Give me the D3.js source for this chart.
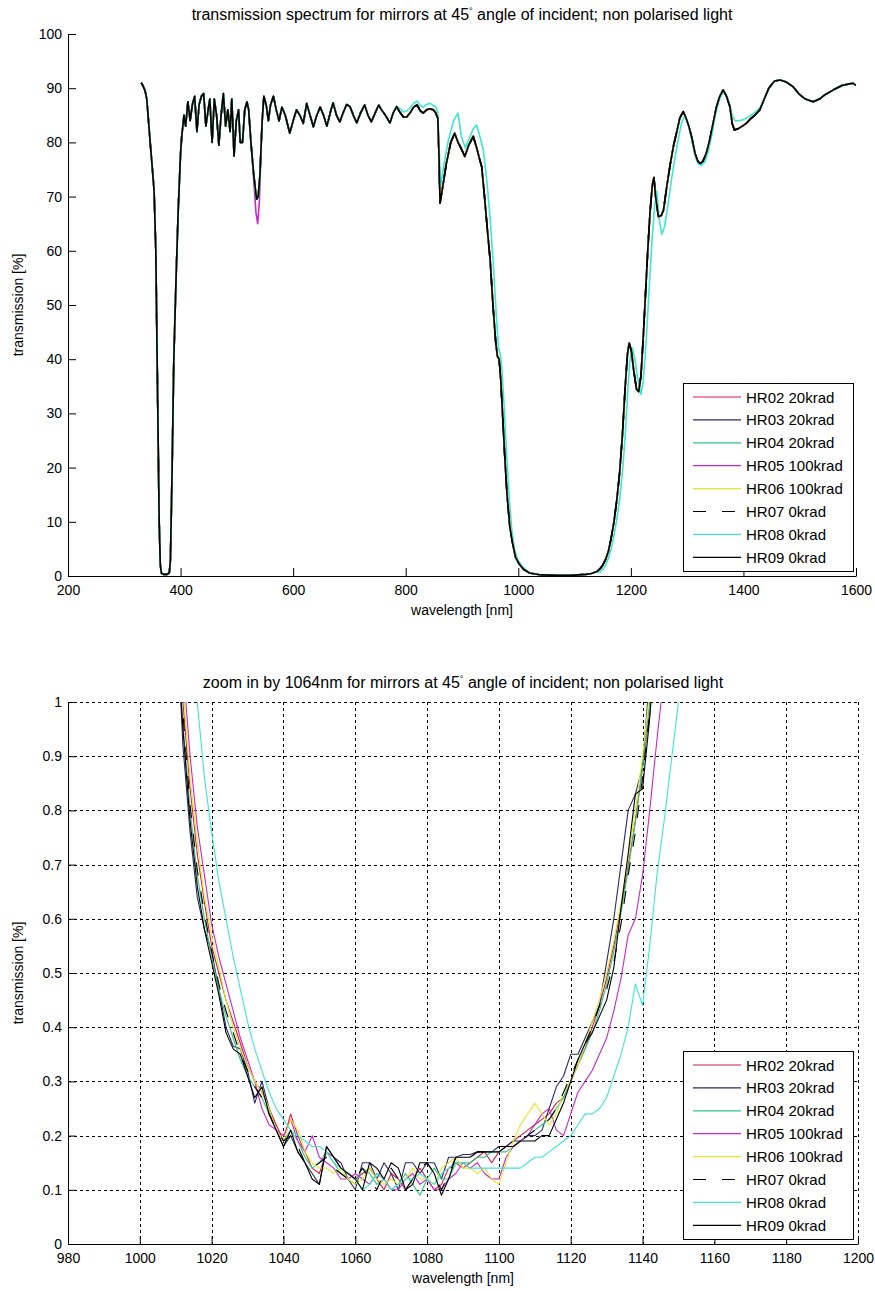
<!DOCTYPE html>
<html><head><meta charset="utf-8">
<script src="https://cdn.jsdelivr.net/npm/d3@7"></script>
<style>
body{margin:0;background:#fff}
svg text{font-family:"Liberation Sans",Arial,Helvetica,sans-serif;fill:#000}
</style>
</head><body>
<svg id="c" width="875" height="1291"></svg>
<script>
// ---------------- DATA ----------------
const seriesNames = ["HR02 20krad","HR03 20krad","HR04 20krad","HR05 100krad","HR06 100krad","HR07 0krad","HR08 0krad","HR09 0krad"];
const seriesColors = ["#d21f4a","#2a2a6a","#2fc584","#c828c8","#e6e62a","#000000","#3ee6d2","#000000"];
const seriesDash = [null,null,null,null,null,"13,16",null,null];

const topXTicks = [200,400,600,800,1000,1200,1400,1600];
const topYTicks = [0,10,20,30,40,50,60,70,80,90,100];
const zoomXTicks = [980,1000,1020,1040,1060,1080,1100,1120,1140,1160,1180,1200];
const zoomYTicks = [0,0.1,0.2,0.3,0.4,0.5,0.6,0.7,0.8,0.9,1];

// full spectrum, HR09 (shared by most samples, which overlap)
const topBase = [
[330,91],[333,90.5],[337,89.5],[340,88],[343,84],[346,80],[350,75],[353,71],[356,60],[359,35],[362,10],[364,2],[366,0.5],[370,0.3],[376,0.3],[380,0.6],[382,3],[385,20],[388,40],[392,55],[396,68],[400,78],[402,81],
[406,85],[409,83],[413,87.5],[417,84],[421,87],[425,88.5],[429,82],[433,87],[437,88.5],[441,89],[445,83],[449,86],[452,88],[456,80],[460,88],[464,85],[468,79.5],[472,85],[476,89],[480,83],[484,86],[488,82],[491,88],[495,77.5],[499,84],[503,86],[506,80],[510,80],[514,86],[518,87.5],[521,86],[525,80],[530,74],[535,69.5],[538,70],[541,74],[545,84],[548,88.5],
[552,87],[556,84],[560,87],[565,88.5],[570,86],[575,84],[580,86.5],[586,85],[594,81.7],[600,84],[606,86],[612,85],[618,83.5],[624,87.2],[630,85],[636,82.9],[642,85],[648,86.5],[654,85],[660,83],[666,85.5],[671,87.3],[677,85],[683,83.8],[689,85.5],[695,87],[701,86.6],[707,85],[713,83.6],[720,85.5],[727,86.9],[733,85],[739,83.8],[746,85.5],[752,86.9],[757,86],[764,85],[772,83.6],[778,85.5],[784,86.6],[790,85.5],[796,84.7],[802,84.7],[808,85.5],[814,86.5],[820,86.9],[826,85.8],[831,85.4],[837,86],[843,86.2],[849,86],[853,85.5],[857,84.5],
[859,78],[861,68.8],[866,72],[872,76],[880,80],[887,81.7],[893,80],[898,79],[905,77.4],[912,79.5],[920,81.1],[926,79],[931,77],[935,75.5],[940,70],[945,64],[950,58.3],[955,50],[960,43],[963,40.5],[966,40],[969,36],[972,30],[976,22],[980,15],[985,9],[990,6],[995,3.5],[1000,2.5],[1005,1.8],[1010,1.2],[1020,0.55],[1040,0.2],[1070,0.12],[1100,0.17],[1120,0.3],[1130,0.45],[1140,0.85],[1145,1.3],
[1150,2],[1155,3],[1160,4.5],[1165,7],[1170,10],[1175,14],[1180,19],[1185,26],[1190,35],[1194,41],[1197,43],[1201,41.5],[1205,38],[1210,34.5],[1214,34],[1218,37],[1222,44],[1226,52],[1230,60],[1234,67],[1238,72],[1241,73.5],[1244,70],[1249,66.3],[1254,66.5],[1258,67.5],[1264,72],[1270,76],[1276,79.5],[1281,81.7],[1287,84.5],[1293,85.7],[1298,84.5],[1303,83],[1308,81],[1314,78],[1319,76.5],[1323,76.1],[1328,76.5],[1334,78],[1340,80.4],[1346,83.5],[1352,86.5],[1358,88.5],[1364,89.7],[1370,88.5],[1376,86.6],[1380,83.5],[1384,82.3],[1390,82.5],[1398,83],[1405,83.5],[1412,84.3],[1420,85],[1429,86],[1437,88],[1445,90],[1455,91.3],[1465,91.5],[1475,91.2],[1488,90.3],[1498,89],[1510,88],[1524,87.5],[1535,88],[1545,88.8],[1560,89.7],[1575,90.5],[1588,90.8],[1595,90.9],[1600,90.5]
];
// HR05 differs at the 540 nm dip
const topMagentaDip = [[530,73],[534,67],[537,65],[540,69],[544,82]];
// HR08 differs (shifted) in these ranges
const topCyanA = [[790,86.2],[796,85.6],[802,85.8],[808,86.4],[814,87.2],[820,87.6],[826,86.8],[831,86.5],[837,87],[843,87.2],[849,86.8],[853,86.6],[857,85.5],[859,80],[862,72],[868,76],[875,80],[885,84],[893,85.4],[899,81],[906,79],[914,81],[920,82.5],[926,83.2],[932,81],[938,78.5],[944,73],[950,66],[956,57],[961,48],[965,42],[968,41],[971,38],[975,31],[979,23],[984,14],[989,8],[994,4.5],[1000,2.8],[1006,1.9],[1012,1.3]];
const topCyanB = [[1145,0.7],[1150,1.2],[1155,2.0],[1160,3.2],[1165,5],[1170,7.5],[1175,10.5],[1180,14],[1185,19],[1190,26],[1195,35],[1199,40.5],[1203,42],[1207,40],[1212,36.5],[1218,33.5],[1222,36],[1227,43],[1232,52],[1237,61],[1242,68],[1246,71],[1250,66],[1255,63],[1260,64.5],[1266,68.5],[1272,73],[1278,77],[1284,80.5],[1290,83.5],[1296,85],[1302,83.5],[1308,80.5],[1314,77.5],[1320,76],[1326,75.8],[1332,76.5],[1338,78.5],[1344,81.5],[1350,85],[1356,87.5],[1362,89],[1368,89],[1374,87.5],[1380,85],[1385,84],[1392,84],[1400,84.2],[1410,84.8],[1420,85.5],[1430,86.5]];

// zoom around 1064 nm: common wavelength grid
const zoomWl = [
1006,1008,1010,1012,1014,1016,1018,1020,1022,1024,
1026,1028,1030,1032,1034,1036,1038,1040,1042,1044,
1046,1048,1050,1052,1054,1056,1058,1060,1062,1064,
1066,1068,1070,1072,1074,1076,1078,1080,1082,1084,
1086,1088,1090,1092,1094,1096,1098,1100,1102,1104,
1106,1108,1110,1112,1114,1116,1118,1120,1122,1124,
1126,1128,1130,1132,1134,1136,1138,1140,1142,1144,
1146,1148,1150,1152,1154];
const zHR02 = [2.3,1.8,1.3,1.0,0.84,0.72,0.63,0.55,0.50,0.45,
0.41,0.37,0.33,0.30,0.28,0.25,0.22,0.19,0.24,0.20,
0.17,0.14,0.13,0.17,0.16,0.14,0.13,0.12,0.13,0.14,
0.12,0.10,0.13,0.12,0.10,0.12,0.14,0.12,0.10,0.11,
0.14,0.15,0.14,0.15,0.16,0.17,0.15,0.17,0.18,0.19,
0.20,0.21,0.22,0.23,0.24,0.26,0.27,0.30,0.33,0.36,
0.40,0.44,0.49,0.55,0.62,0.70,0.78,0.88,0.98,1.15,
1.4,1.7,2.0,2.3,2.6];
const zHR03 = [2.2,1.7,1.2,0.92,0.76,0.64,0.58,0.54,0.47,0.40,
0.365,0.36,0.32,0.26,0.30,0.25,0.21,0.18,0.20,0.17,
0.15,0.13,0.11,0.18,0.16,0.15,0.12,0.10,0.15,0.15,
0.12,0.15,0.13,0.10,0.15,0.15,0.13,0.15,0.15,0.12,
0.16,0.16,0.165,0.165,0.17,0.17,0.17,0.18,0.18,0.19,
0.19,0.20,0.20,0.21,0.25,0.29,0.31,0.35,0.35,0.38,
0.41,0.44,0.52,0.60,0.70,0.80,0.83,0.88,1.05,1.3,
1.6,1.9,2.2,2.5,2.8];
const zHR04 = [2.1,1.6,1.2,0.96,0.80,0.68,0.60,0.53,0.47,0.42,
0.38,0.34,0.31,0.29,0.27,0.24,0.21,0.19,0.21,0.19,
0.16,0.14,0.15,0.17,0.15,0.13,0.12,0.11,0.14,0.13,
0.11,0.12,0.10,0.11,0.13,0.11,0.09,0.12,0.14,0.12,
0.12,0.15,0.15,0.15,0.16,0.16,0.17,0.17,0.17,0.18,
0.19,0.20,0.21,0.22,0.23,0.25,0.27,0.30,0.33,0.36,
0.39,0.43,0.48,0.54,0.61,0.69,0.78,0.88,1.0,1.2,
1.45,1.7,2.0,2.3,2.6];
const zHR05 = [2.4,1.9,1.4,1.07,0.90,0.77,0.68,0.59,0.53,0.48,
0.43,0.38,0.34,0.30,0.25,0.22,0.21,0.20,0.23,0.19,
0.17,0.20,0.16,0.15,0.14,0.12,0.12,0.13,0.12,0.11,
0.13,0.12,0.10,0.10,0.12,0.13,0.11,0.12,0.10,0.10,
0.12,0.13,0.15,0.14,0.15,0.13,0.12,0.12,0.16,0.18,
0.19,0.20,0.22,0.24,0.25,0.21,0.20,0.24,0.28,0.30,
0.32,0.35,0.38,0.43,0.49,0.57,0.60,0.68,0.80,0.93,
1.05,1.25,1.5,1.8,2.1];
const zHR06 = [2.3,1.8,1.35,1.03,0.86,0.74,0.64,0.57,0.51,0.45,
0.40,0.36,0.33,0.30,0.28,0.25,0.21,0.19,0.23,0.21,
0.17,0.15,0.14,0.14,0.13,0.14,0.12,0.11,0.12,0.14,
0.12,0.11,0.12,0.11,0.12,0.14,0.12,0.12,0.11,0.14,
0.15,0.16,0.14,0.14,0.13,0.14,0.12,0.11,0.15,0.19,
0.22,0.24,0.26,0.24,0.22,0.24,0.28,0.30,0.33,0.37,
0.41,0.45,0.50,0.56,0.63,0.71,0.80,0.90,1.02,1.2,
1.45,1.7,2.0,2.3,2.6];
const zHR07 = [2.2,1.7,1.25,0.98,0.81,0.69,0.61,0.54,0.48,0.43,
0.39,0.35,0.32,0.29,0.27,0.24,0.21,0.19,0.20,0.18,
0.15,0.14,0.15,0.16,0.14,0.13,0.12,0.12,0.14,0.12,
0.10,0.13,0.14,0.12,0.10,0.12,0.14,0.15,0.13,0.10,
0.13,0.16,0.16,0.16,0.17,0.17,0.17,0.18,0.18,0.18,
0.19,0.20,0.21,0.22,0.23,0.25,0.28,0.31,0.34,0.37,
0.40,0.44,0.47,0.52,0.59,0.68,0.76,0.86,0.98,1.2,
1.45,1.7,2.0,2.3,2.6];
const zHR08 = [3.0,2.4,1.9,1.5,1.2,1.0,0.86,0.76,0.67,0.60,
0.53,0.47,0.41,0.36,0.32,0.28,0.25,0.23,0.21,0.20,
0.19,0.18,0.18,0.17,0.15,0.14,0.13,0.12,0.10,0.11,
0.13,0.12,0.10,0.11,0.12,0.12,0.13,0.12,0.11,0.13,
0.14,0.15,0.15,0.14,0.14,0.14,0.14,0.14,0.14,0.14,
0.14,0.15,0.16,0.16,0.17,0.18,0.19,0.20,0.22,0.24,
0.24,0.25,0.27,0.31,0.35,0.40,0.48,0.44,0.55,0.68,
0.78,0.89,1.0,1.12,1.25];
const zHR09 = [2.0,1.6,1.15,0.95,0.78,0.66,0.58,0.52,0.46,0.39,
0.36,0.35,0.31,0.27,0.29,0.24,0.21,0.18,0.21,0.17,
0.15,0.12,0.11,0.18,0.16,0.14,0.13,0.12,0.10,0.15,
0.14,0.12,0.15,0.14,0.10,0.11,0.15,0.15,0.13,0.09,
0.12,0.16,0.16,0.16,0.17,0.17,0.17,0.17,0.18,0.18,
0.19,0.19,0.19,0.20,0.20,0.23,0.26,0.30,0.34,0.37,
0.39,0.42,0.45,0.51,0.62,0.72,0.83,0.84,0.97,1.15,
1.4,1.7,2.0,2.4,2.8];

// ---------------- BUILD ----------------
function merge(base, patch){
  const a = patch[0][0], b = patch[patch.length-1][0];
  return base.filter(d => d[0] < a || d[0] > b).concat(patch).sort((p,q)=>p[0]-q[0]);
}
const topMagenta = merge(topBase, topMagentaDip);
const topCyan = merge(merge(topBase, topCyanA), topCyanB);
const topSeries = [topBase, topBase, topBase, topMagenta, topBase, topBase, topCyan, topBase];
const zoomVals = [zHR02,zHR03,zHR04,zHR05,zHR06,zHR07,zHR08,zHR09];
const zoomSeries = zoomVals.map(v => zoomWl.map((w,i)=>[w, v[i]]));

const svg = d3.select("#c");
svg.append("rect").attr("width",875).attr("height",1291).attr("fill","#fff");
const FONT = '"Liberation Sans", Arial, Helvetica, sans-serif';

function panel(o){
  const x = d3.scaleLinear().domain(o.xDom).range([68, o.xRight]);
  const y = d3.scaleLinear().domain(o.yDom).range([o.yBottom, o.yTop]);
  const g = svg.append("g");
  const id = "clip" + o.key;
  svg.append("defs").append("clipPath").attr("id", id)
    .append("rect").attr("x", x.range()[0]).attr("y", o.yTop)
    .attr("width", x.range()[1]-x.range()[0]).attr("height", o.yBottom-o.yTop);

  if (o.grid){
    const gg = g.append("g").attr("stroke","#000").attr("stroke-width",1).attr("stroke-dasharray","3,3").attr("shape-rendering","crispEdges");
    gg.selectAll("line.v").data(o.xTicks.slice(1)).join("line").attr("class","v")
      .attr("x1",d=>Math.round(x(d))+0.5).attr("x2",d=>Math.round(x(d))+0.5).attr("y1",o.yTop).attr("y2",o.yBottom);
    gg.selectAll("line.h").data(o.yTicks.slice(1)).join("line").attr("class","h")
      .attr("y1",d=>Math.round(y(d))+0.5).attr("y2",d=>Math.round(y(d))+0.5).attr("x1",x.range()[0]).attr("x2",x.range()[1]);
  }

  const line = d3.line().x(d=>x(d[0])).y(d=>y(d[1]));
  const lg = g.append("g").attr("clip-path",`url(#${id})`);
  o.series.forEach((s,i)=>{
    lg.append("path").datum(s).attr("d",line).attr("fill","none")
      .attr("stroke",seriesColors[i]).attr("stroke-width",o.lw)
      .attr("stroke-dasharray",seriesDash[i]).attr("stroke-linejoin","round");
  });

  const ax = g.append("g").attr("transform",`translate(0,${o.yBottom})`)
    .call(d3.axisBottom(x).tickValues(o.xTicks).tickSizeInner(-8).tickSizeOuter(0).tickPadding(9).tickFormat(d3.format("d")));
  const ay = g.append("g").attr("transform",`translate(68,0)`)
    .call(d3.axisLeft(y).tickValues(o.yTicks).tickSizeInner(-8).tickSizeOuter(0).tickPadding(6).tickFormat(o.yFmt));
  [ax,ay].forEach(a=>{
    a.attr("font-family",FONT).attr("font-size",14);
    a.select(".domain").attr("stroke","#000").attr("stroke-width",1);
    a.selectAll(".tick line").attr("stroke","#000");
    a.selectAll("text").attr("fill","#000");
  });

  // titles / labels
  const t = g.append("text").attr("x",(x.range()[0]+x.range()[1])/2).attr("y",o.titleY)
    .attr("text-anchor","middle").attr("font-size",o.titleSize);
  t.append("tspan").text(o.titleA);
  t.append("tspan").attr("dy",-6).attr("font-size",9).text("°");
  t.append("tspan").attr("dy",6).text(" " + o.titleB);
  g.append("text").attr("x",(x.range()[0]+x.range()[1])/2).attr("y",o.yBottom+39)
    .attr("text-anchor","middle").attr("font-size",14).text("wavelength [nm]");
  g.append("text").attr("transform",`translate(23,${(o.yTop+o.yBottom)/2}) rotate(-90)`)
    .attr("text-anchor","middle").attr("font-size",14).text("transmission [%]");

  // legend
  const L = g.append("g").attr("transform",`translate(683,${o.legTop})`);
  L.append("rect").attr("x",0.5).attr("y",0.5).attr("width",170).attr("height",188)
    .attr("fill","#fff").attr("stroke","#000").attr("stroke-width",1);
  seriesNames.forEach((n,i)=>{
    const yy = 14 + i*22.9;
    L.append("line").attr("x1",10).attr("x2",58).attr("y1",yy).attr("y2",yy)
      .attr("stroke",seriesColors[i]).attr("stroke-width",1.2).attr("stroke-dasharray",seriesDash[i]);
    L.append("text").attr("x",63).attr("y",yy+5.5).attr("font-size",15).text(n);
  });
}

panel({key:"top", xDom:[200,1600], xRight:856, yDom:[0,100], yTop:34, yBottom:576,
  xTicks:topXTicks, yTicks:topYTicks, yFmt:d3.format("d"), grid:false, lw:1.6,
  series:topSeries, titleY:20, titleSize:16,
  titleA:"transmission spectrum for mirrors at 45", titleB:"angle of incident; non polarised light",
  legTop:383});

panel({key:"zoom", xDom:[980,1200], xRight:858, yDom:[0,1], yTop:702, yBottom:1244,
  xTicks:zoomXTicks, yTicks:zoomYTicks, yFmt:d=>String(+d.toFixed(1)), grid:true, lw:1.1,
  series:zoomSeries, titleY:688, titleSize:16,
  titleA:"zoom in by 1064nm for mirrors at 45", titleB:"angle of incident; non polarised light",
  legTop:1051});
</script>
</body></html>
